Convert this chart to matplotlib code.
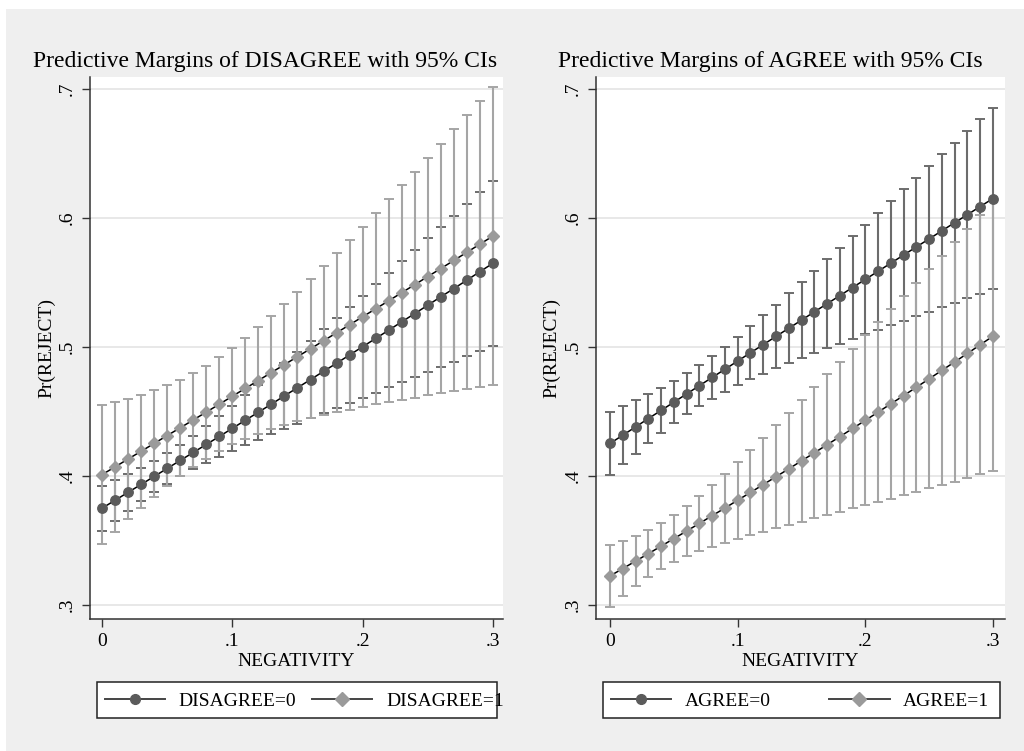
import numpy as np
import matplotlib
matplotlib.use('Agg')
from matplotlib import pyplot as plt
from matplotlib.lines import Line2D
import matplotlib.patches as patches

# x values (NEGATIVITY)
negativity = [0.00, 0.01, 0.02, 0.03, 0.04, 0.05, 0.06, 0.07, 0.08, 0.09,
              0.10, 0.11, 0.12, 0.13, 0.14, 0.15, 0.16, 0.17, 0.18, 0.19,
              0.20, 0.21, 0.22, 0.23, 0.24, 0.25, 0.26, 0.27, 0.28, 0.29, 0.30]

# left panel: DISAGREE=0 / DISAGREE=1 margins and 95% CI half widths
disagree0 = [0.3750, 0.3811, 0.3873, 0.3934, 0.3996, 0.4058, 0.4120, 0.4182, 0.4244, 0.4306,
             0.4369, 0.4432, 0.4494, 0.4557, 0.4621, 0.4684, 0.4747, 0.4811, 0.4874, 0.4938,
             0.5002, 0.5066, 0.5130, 0.5195, 0.5259, 0.5324, 0.5389, 0.5453, 0.5518, 0.5584, 0.5649]
disagree0_ci = [0.0174, 0.0157, 0.0142, 0.0130, 0.0123, 0.0120, 0.0123, 0.0130, 0.0142, 0.0157,
                0.0174, 0.0193, 0.0213, 0.0234, 0.0256, 0.0279, 0.0301, 0.0325, 0.0348, 0.0372,
                0.0396, 0.0420, 0.0444, 0.0468, 0.0493, 0.0517, 0.0541, 0.0566, 0.0591, 0.0615, 0.0640]
disagree1 = [0.4010, 0.4070, 0.4131, 0.4191, 0.4252, 0.4313, 0.4373, 0.4434, 0.4495, 0.4556,
             0.4618, 0.4679, 0.4740, 0.4802, 0.4863, 0.4925, 0.4986, 0.5048, 0.5110, 0.5172,
             0.5234, 0.5296, 0.5358, 0.5421, 0.5483, 0.5546, 0.5608, 0.5671, 0.5734, 0.5797, 0.5860]
disagree1_ci = [0.0538, 0.0502, 0.0468, 0.0438, 0.0412, 0.0390, 0.0374, 0.0363, 0.0360, 0.0363,
                0.0374, 0.0390, 0.0412, 0.0438, 0.0468, 0.0502, 0.0538, 0.0576, 0.0616, 0.0657,
                0.0699, 0.0742, 0.0786, 0.0831, 0.0876, 0.0922, 0.0968, 0.1015, 0.1062, 0.1109, 0.1156]

# right panel: AGREE=0 / AGREE=1
agree0 = [0.4252, 0.4316, 0.4380, 0.4445, 0.4508, 0.4572, 0.4636, 0.4700, 0.4764, 0.4827,
          0.4891, 0.4955, 0.5018, 0.5082, 0.5145, 0.5208, 0.5272, 0.5335, 0.5398, 0.5461,
          0.5524, 0.5587, 0.5650, 0.5713, 0.5776, 0.5838, 0.5901, 0.5964, 0.6026, 0.6089, 0.6151]
agree0_ci = [0.0247, 0.0226, 0.0206, 0.0188, 0.0174, 0.0164, 0.0159, 0.0159, 0.0164, 0.0174,
             0.0188, 0.0206, 0.0226, 0.0247, 0.0270, 0.0295, 0.0320, 0.0345, 0.0372, 0.0398,
             0.0425, 0.0453, 0.0480, 0.0508, 0.0536, 0.0564, 0.0592, 0.0620, 0.0648, 0.0677, 0.0705]
agree1 = [0.3225, 0.3282, 0.3340, 0.3397, 0.3456, 0.3514, 0.3573, 0.3632, 0.3692, 0.3751,
          0.3812, 0.3872, 0.3933, 0.3994, 0.4055, 0.4117, 0.4179, 0.4242, 0.4304, 0.4368,
          0.4431, 0.4495, 0.4559, 0.4623, 0.4688, 0.4753, 0.4819, 0.4884, 0.4950, 0.5017, 0.5084]
agree1_ci = [0.0240, 0.0216, 0.0197, 0.0184, 0.0180, 0.0184, 0.0197, 0.0216, 0.0240, 0.0267,
             0.0298, 0.0330, 0.0364, 0.0399, 0.0435, 0.0471, 0.0508, 0.0545, 0.0582, 0.0620,
             0.0658, 0.0696, 0.0735, 0.0773, 0.0811, 0.0850, 0.0889, 0.0928, 0.0966, 0.1005, 0.1044]

y_ticks = [0.3, 0.4, 0.5, 0.6, 0.7]
y_ticklabels = ['.3', '.4', '.5', '.6', '.7']
x_ticks = [0.0, 0.1, 0.2, 0.3]
x_ticklabels = ['0', '.1', '.2', '.3']

W, H = 1024, 751
DARK = '#5b5b5b'
DARK_CI = '#6c6c6c'
LIGHT = '#9a9a9a'
LIGHT_CI = '#a5a5a5'

plt.rcParams['font.family'] = ['Liberation Serif', 'DejaVu Serif']


def fx(px):
    return px / W


def fy(py):
    return 1 - py / H


def draw_panel(ax, s0, c0, s1, c1, xlim, ylab_x):
    x = np.array(negativity)
    for s, c, col in [(s0, c0, DARK_CI), (s1, c1, LIGHT_CI)]:
        ax.errorbar(x, s, yerr=c, fmt='none', ecolor=col, elinewidth=1.5,
                    capsize=3.8, capthick=1.4, zorder=2)
    ax.plot(x, s0, color='black', lw=1.1, zorder=3)
    ax.plot(x, s1, color='black', lw=1.1, zorder=3)
    ax.plot(x, s0, ls='none', marker='o', ms=6.8, mfc=DARK, mec=DARK, zorder=4)
    ax.plot(x, s1, ls='none', marker='D', ms=6.6, mfc=LIGHT, mec=LIGHT, zorder=4)

    ax.set_xlim(xlim)
    ax.set_ylim(0.2891, 0.7093)
    ax.set_yticks(y_ticks)
    ax.set_yticklabels(y_ticklabels, rotation=90, va='center', fontsize=14)
    ax.set_xticks(x_ticks)
    ax.set_xticklabels(x_ticklabels, fontsize=14)
    ax.tick_params(direction='out', length=6, width=1, color='#333333', pad=4)
    ax.grid(axis='y', color='#e4e4e4', lw=1.2)
    ax.set_axisbelow(True)
    for side in ['top', 'right']:
        ax.spines[side].set_visible(False)
    for side in ['left', 'bottom']:
        ax.spines[side].set_color('#333333')
        ax.spines[side].set_linewidth(1.1)
    ax.set_xlabel('NEGATIVITY', fontsize=14, labelpad=2)
    ax.set_ylabel('Pr(REJECT)', fontsize=14)
    ax.yaxis.set_label_coords(ylab_x, 0.5)
    ax.set_facecolor('white')


fig = plt.figure(figsize=(W / 100, H / 100), dpi=100, facecolor='white')
fig.patches.append(patches.Rectangle((fx(6), 0), 1 - fx(6), fy(9), transform=fig.transFigure,
                                     facecolor='#efefef', edgecolor='none', zorder=-10))

ax1 = fig.add_axes([fx(90), fy(619), fx(503) - fx(90), fy(77) - fy(619)])
ax2 = fig.add_axes([fx(596), fy(619), fx(1005) - fx(596), fy(77) - fy(619)])

draw_panel(ax1, disagree0, disagree0_ci, disagree1, disagree1_ci, (-0.0092, 0.3077), -0.085)
draw_panel(ax2, agree0, agree0_ci, agree1, agree1_ci, (-0.011, 0.3094), -0.088)

fig.text(fx(265), fy(67), 'Predictive Margins of DISAGREE with 95% CIs',
         ha='center', va='baseline', fontsize=17)
fig.text(fx(770), fy(67), 'Predictive Margins of AGREE with 95% CIs',
         ha='center', va='baseline', fontsize=17)

# legend boxes: frame drawn separately, entries placed by column offsets
legend_specs = [(['DISAGREE=0', 'DISAGREE=1'], 97, 497, 0.8),
                (['AGREE=0', 'AGREE=1'], 603, 1000, 3.0)]
for labels, x0, x1, colsp in legend_specs:
    fig.patches.append(patches.Rectangle((fx(x0), fy(718)), fx(x1) - fx(x0), fy(682) - fy(718),
                                         transform=fig.transFigure, facecolor='white',
                                         edgecolor='#222222', lw=1.1, zorder=1))
    handles = [Line2D([], [], color='#444444', lw=1.4, marker='o', ms=7, mfc=DARK, mec=DARK),
               Line2D([], [], color='#444444', lw=1.4, marker='D', ms=7, mfc=LIGHT, mec=LIGHT)]
    fig.legend(handles, labels, loc='center left', ncol=2, frameon=False,
               bbox_to_anchor=(fx(x0 + 8), fy(701)), borderaxespad=0, borderpad=0,
               fontsize=14, handlelength=3.1, handletextpad=0.7, columnspacing=colsp)

fig.savefig('out.png', dpi=100, facecolor=fig.get_facecolor())
